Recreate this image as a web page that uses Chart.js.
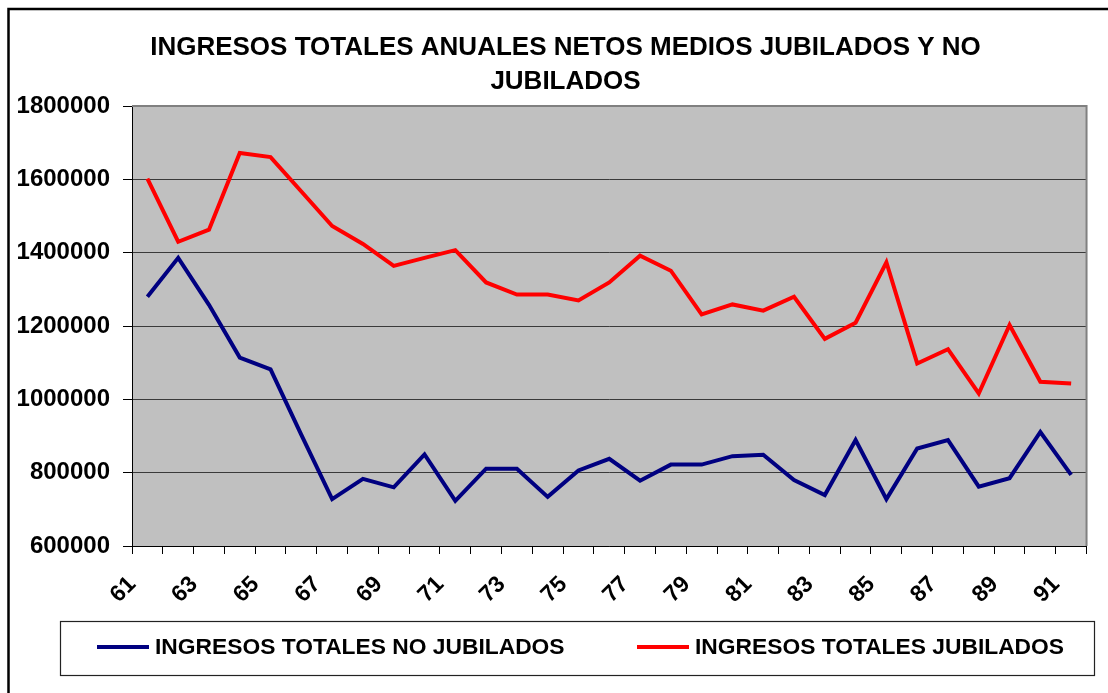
<!DOCTYPE html>
<html>
<head>
<meta charset="utf-8">
<script src="https://cdn.jsdelivr.net/npm/chart.js@4"></script>
<style>
  html, body { margin: 0; padding: 0; background: #fff; }
  #wrap { width: 1108px; height: 693px; }
</style>
</head>
<body>
<div id="wrap"><canvas id="chart" width="1108" height="693"></canvas></div>
<script>
// años (eje X)
const years = ['61','62','63','64','65','66','67','68','69','70','71','72','73','74','75','76',
               '77','78','79','80','81','82','83','84','85','86','87','88','89','90','91'];

// ingresos totales no jubilados
const noJubilados = [1280000, 1386000, 1258000, 1114000, 1082000, 903000, 728000, 783000,
                     760000, 850000, 723000, 811000, 811000, 734000, 806000, 838000,
                     778000, 822000, 822000, 845000, 849000, 780000, 739000, 889000,
                     728000, 866000, 889000, 762000, 785000, 911000, 794000];

// ingresos totales jubilados
const jubilados = [1602000, 1430000, 1463000, 1672000, 1661000, 1567000, 1473000, 1424000,
                   1364000, 1386000, 1407000, 1319000, 1286000, 1286000, 1270000, 1319000,
                   1392000, 1351000, 1232000, 1259000, 1242000, 1280000, 1165000, 1209000,
                   1374000, 1098000, 1137000, 1016000, 1203000, 1048000, 1043000];

const titleLines = ['INGRESOS TOTALES ANUALES NETOS MEDIOS JUBILADOS Y NO', 'JUBILADOS'];
const FONT = "'Liberation Sans', Arial, sans-serif";

// fondo gris del área de trazado + marco exterior
const chartBackground = {
    id: 'chartBackground',
    afterLayout(chart) {
        // el título de Excel va centrado un poco más a la derecha
        if (chart.titleBlock) chart.titleBlock.left = 44;
    },
    beforeDraw(chart) {
        const {ctx, chartArea: a} = chart;
        ctx.save();
        ctx.strokeStyle = '#000';
        ctx.lineWidth = 2.5;
        ctx.beginPath();
        ctx.moveTo(8.5, 693);
        ctx.lineTo(8.5, 9);
        ctx.lineTo(1108, 9);
        ctx.stroke();
        ctx.fillStyle = '#c0c0c0';
        ctx.fillRect(a.left, a.top, a.right - a.left, a.bottom - a.top);
        ctx.restore();
    },
    afterDraw(chart) {
        const {ctx, chartArea: a} = chart;
        ctx.save();
        ctx.strokeStyle = '#808080';
        ctx.lineWidth = 2;
        ctx.beginPath();
        ctx.moveTo(a.left, a.top);
        ctx.lineTo(a.right, a.top);
        ctx.lineTo(a.right, a.bottom);
        ctx.stroke();
        ctx.restore();
    }
};

// leyenda con recuadro (como en Excel)
const boxedLegend = {
    id: 'boxedLegend',
    afterDraw(chart) {
        const ctx = chart.ctx;
        const sets = chart.data.datasets;
        const itemX = [97, 637];
        const y = 647;
        ctx.save();
        ctx.strokeStyle = '#222';
        ctx.lineWidth = 1.2;
        ctx.strokeRect(60.5, 621.5, 1034, 54);
        ctx.font = 'bold 22.8px ' + FONT;
        ctx.textBaseline = 'middle';
        ctx.fillStyle = '#000';
        sets.forEach((ds, i) => {
            ctx.strokeStyle = ds.borderColor;
            ctx.lineWidth = 4;
            ctx.beginPath();
            ctx.moveTo(itemX[i], y);
            ctx.lineTo(itemX[i] + 52, y);
            ctx.stroke();
            ctx.fillText(ds.label, itemX[i] + 58, y + 1);
        });
        ctx.restore();
    }
};

const ctx = document.getElementById('chart');
new Chart(ctx, {
    type: 'line',
    data: {
        labels: years,
        datasets: [
            { label: 'INGRESOS TOTALES NO JUBILADOS', data: noJubilados, borderColor: '#000080',
              backgroundColor: '#000080', borderWidth: 4, pointRadius: 0, tension: 0 },
            { label: 'INGRESOS TOTALES JUBILADOS', data: jubilados, borderColor: '#ff0000',
              backgroundColor: '#ff0000', borderWidth: 4, pointRadius: 0, tension: 0 }
        ]
    },
    options: {
        responsive: false,
        animation: false,
        layout: { padding: { left: 10, right: 21, top: 0, bottom: 0 } },
        plugins: {
            legend: { display: false },
            tooltip: { enabled: false },
            title: {
                display: true,
                text: titleLines,
                color: '#000',
                font: { family: FONT, size: 26, weight: 'bold', lineHeight: 1.31 },
                padding: { top: 31, bottom: 7 }
            }
        },
        scales: {
            x: {
                offset: true,
                afterFit: (scale) => { scale.height = 147; },
                grid: { offset: true, drawOnChartArea: false, tickLength: 8, color: '#000', lineWidth: 1 },
                border: { color: '#000', width: 1 },
                ticks: {
                    autoSkip: false,
                    maxRotation: 45,
                    minRotation: 45,
                    padding: 17,
                    labelOffset: -15,
                    color: '#000',
                    font: { family: FONT, size: 23, weight: 'bold' },
                    callback: function (value, index) {
                        return index % 2 === 0 ? this.getLabelForValue(value) : '';
                    }
                }
            },
            y: {
                min: 600000,
                max: 1800000,
                afterFit: (scale) => { scale.width = 122; },
                grid: { color: '#3a3a3a', lineWidth: 1, tickLength: 9, tickColor: '#000' },
                border: { color: '#000', width: 1 },
                ticks: {
                    stepSize: 200000,
                    padding: 13,
                    color: '#000',
                    font: { family: FONT, size: 24, weight: 'bold' },
                    callback: (v) => String(v)
                }
            }
        }
    },
    plugins: [chartBackground, boxedLegend]
});
</script>
</body>
</html>
